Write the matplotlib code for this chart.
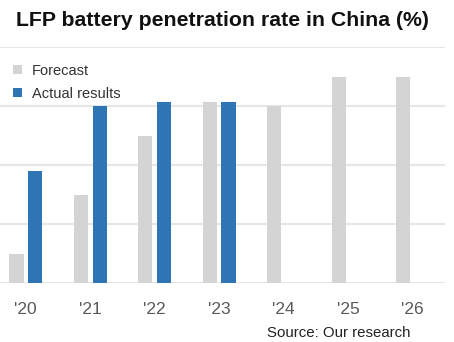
import matplotlib
matplotlib.use("Agg")
import matplotlib.pyplot as plt
import numpy as np

years = ["'20", "'21", "'22", "'23", "'24", "'25", "'26"]
forecast = [10, 30, 50, 61.5, 60, 70, 70]
actual = [38, 60, 61.5, 61.5]

plt.rcParams['font.family'] = ['Liberation Sans', 'DejaVu Sans']

fig = plt.figure(figsize=(4.54, 3.42), dpi=100)
ax = fig.add_axes([0.0, 0.1725, 0.980, 0.690])

x = np.arange(len(years))
w = 0.22
off = 0.145
ax.bar(x - off, forecast, width=w, color='#d4d4d4', zorder=2, label='Forecast')
ax.bar(x[:len(actual)] + off, actual, width=w, color='#2e75b6', zorder=2, label='Actual results')

ax.set_xlim(-0.40, 6.5)
ax.set_ylim(0, 80)
ax.set_yticks([0, 20, 40, 60, 80])
ax.yaxis.grid(True, color='#e6e6e6', linewidth=1.5, zorder=0)
ax.tick_params(axis='y', left=False, labelleft=False)
ax.set_xticks(x)
ax.set_xticklabels(years, fontsize=12.5, color='#595959')
ax.tick_params(axis='x', length=0, pad=14)
for s in ax.spines.values():
    s.set_visible(False)
ax.set_facecolor('white')

fig.text(0.49, 0.94, 'LFP battery penetration rate in China (%)', ha='center', va='center',
         fontsize=15.3, fontweight='bold', color='#111111')
fig.text(0.905, 0.027, 'Source: Our research', ha='right', va='center', fontsize=10.8, color='#222222')

leg = ax.legend(loc='upper left', bbox_to_anchor=(0.016, 0.953), frameon=False, fontsize=10.5,
                handlelength=0.6, handleheight=0.6, handletextpad=0.7, labelspacing=0.62,
                borderaxespad=0.0, borderpad=0.4)
for t in leg.get_texts():
    t.set_color('#333333')

fig.savefig('out.png', dpi=100)
